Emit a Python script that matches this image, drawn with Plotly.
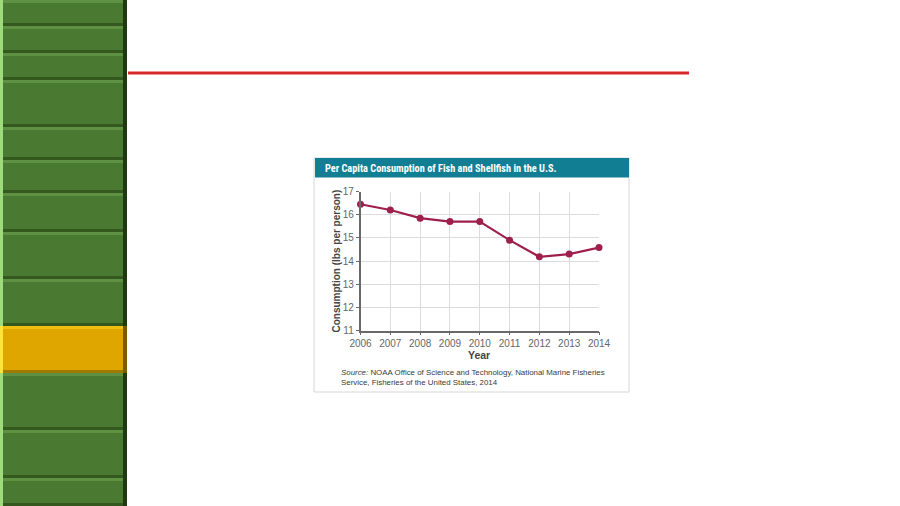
import plotly.graph_objects as go

years = [2006, 2007, 2008, 2009, 2010, 2011, 2012, 2013, 2014]
consumption = [16.45, 16.2, 15.85, 15.7, 15.7, 14.9, 14.18, 14.3, 14.58]
y_ticks = [11, 12, 13, 14, 15, 16, 17]
title_text = "Per Capita Consumption of Fish and Shellfish in the U.S."
y_title = "Consumption (lbs per person)"
x_title = "Year"
source_text = "<i>Source:</i> NOAA Office of Science and Technology, National Marine Fisheries<br>Service, Fisheries of the United States, 2014"

# sidebar button boundaries (pixel rows) and the highlighted button index
button_edges = [0, 26, 53, 80, 127, 160, 193, 232, 279, 326, 373, 430, 478, 506]
active_button = 9

W, H = 900, 506
def X(px): return px / W
def Y(py): return 1 - py / H

shapes = []
def rect(x0, y0, x1, y1, color, line=None):
    shapes.append(dict(type="rect", xref="paper", yref="paper",
                       x0=X(x0), x1=X(x1), y0=Y(y1), y1=Y(y0),
                       fillcolor=color, line=dict(width=0) if line is None else line,
                       layer="below"))

# sidebar
rect(0, 0, 127, 506, "#3f6a2a")
for i in range(len(button_edges) - 1):
    t, b = button_edges[i], button_edges[i + 1]
    if i == active_button:
        base, top, bot, left, right = "#dfa600", "#f0bf10", "#a07a00", "#ffe23a", "#7a5c00"
    else:
        base, top, bot, left, right = "#4a7932", "#5f9143", "#35581f", "#9edb7c", "#1e3a12"
    rect(0, t, 127, b, base)
    rect(0, t, 127, t + 3, top)
    rect(0, b - 3, 127, b, bot)
    rect(0, t, 3, b, left)
    rect(123, t, 127, b, right)

# red rule
shapes.append(dict(type="line", xref="paper", yref="paper",
                   x0=X(128), x1=X(689), y0=Y(73), y1=Y(73),
                   line=dict(color="#d7282c", width=3)))

# chart card
rect(314, 158, 629, 392, "white", line=dict(color="#d6d6d6", width=1))
rect(315, 158, 629, 177.5, "#117e94")

fig = go.Figure()
fig.add_trace(go.Scatter(
    x=years, y=consumption, mode="lines+markers",
    line=dict(color="#9e1f4c", width=2.2),
    marker=dict(color="#9e1f4c", size=7),
    cliponaxis=False, showlegend=False, hoverinfo="x+y"))

tickfont = dict(family="Liberation Sans, Arial", size=10, color="#666")
fig.update_layout(
    width=W, height=H, autosize=False,
    margin=dict(l=0, r=0, t=0, b=0, pad=0, autoexpand=False),
    paper_bgcolor="white", plot_bgcolor="white",
    shapes=shapes,
    xaxis=dict(domain=[X(360.5), X(599)], range=[2006, 2014],
               tickvals=years, ticktext=[str(v) for v in years],
               showgrid=True, gridcolor="#dcdcdc", gridwidth=1,
               showline=True, linecolor="#6a6a6a", linewidth=1.5,
               ticks="outside", ticklen=3, tickcolor="#6a6a6a",
               tickfont=tickfont,
               zeroline=False, fixedrange=True, automargin=False),
    yaxis=dict(domain=[Y(330.5), Y(191.5)], range=[11, 17],
               tickvals=y_ticks,
               showgrid=True, gridcolor="#dcdcdc", gridwidth=1,
               showline=True, linecolor="#6a6a6a", linewidth=1.5,
               ticks="outside", ticklen=3, tickcolor="#6a6a6a",
               tickfont=tickfont,
               zeroline=False, fixedrange=True, automargin=False),
    annotations=[
        dict(text="<b>" + title_text + "</b>", xref="paper", yref="paper",
             x=X(322.5), y=Y(168), xanchor="left", yanchor="middle", showarrow=False,
             font=dict(family="Liberation Sans Narrow, Roboto Condensed, Open Sans", size=10.3, color="white")),
        dict(text="<b>" + y_title + "</b>", xref="paper", yref="paper",
             x=X(335.5), y=Y(261), xanchor="center", yanchor="middle", showarrow=False,
             textangle=-90,
             font=dict(family="Liberation Sans, Arial", size=10, color="#444")),
        dict(text="<b>" + x_title + "</b>", xref="paper", yref="paper",
             x=X(479), y=Y(355), xanchor="center", yanchor="middle", showarrow=False,
             font=dict(family="Liberation Sans, Arial", size=10.5, color="#444")),
        dict(text=source_text, xref="paper", yref="paper",
             x=X(339), y=Y(365.5), xanchor="left", yanchor="top", showarrow=False,
             align="left",
             font=dict(family="Liberation Sans, Arial", size=7.9, color="#3a3a3a")),
    ],
)

fig.write_html("out.html")
